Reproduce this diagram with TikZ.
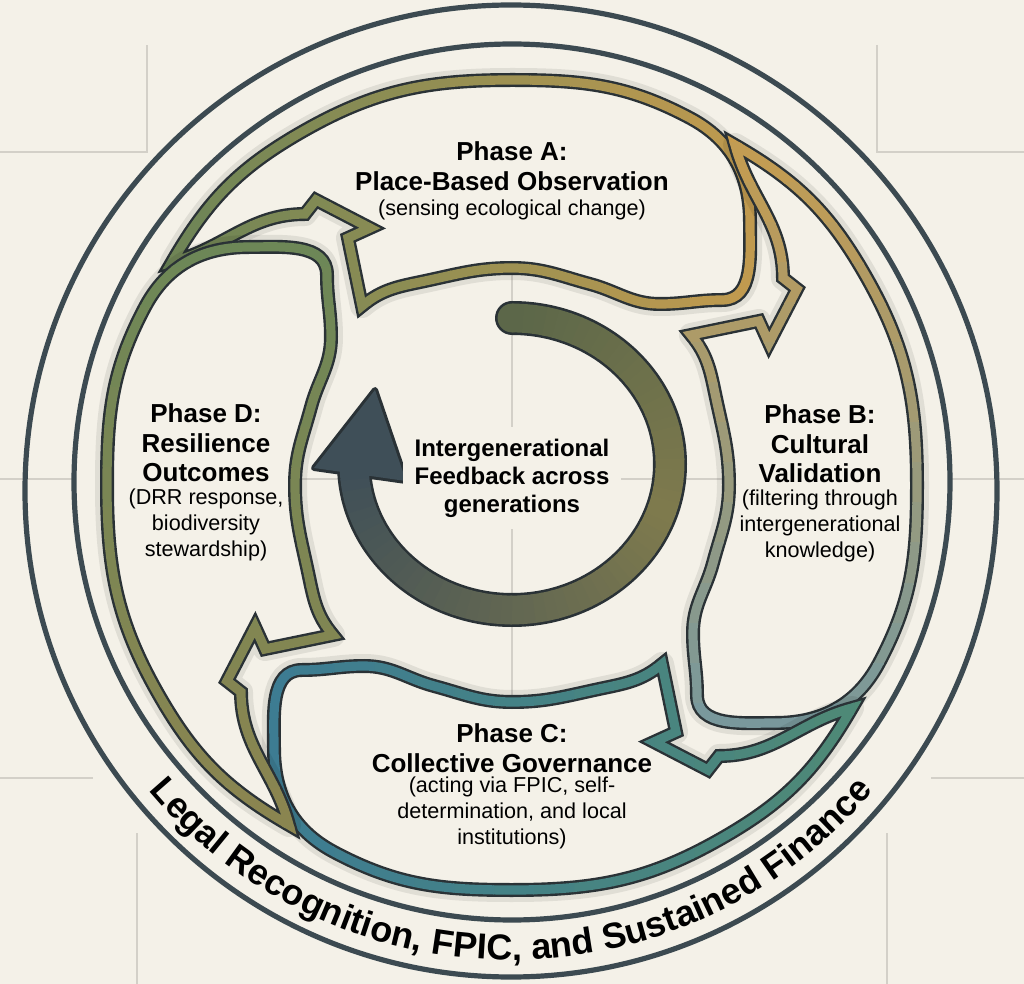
\documentclass[tikz,border=0pt]{standalone}
\usepackage{fontspec}
\setmainfont{Liberation Sans}
\usetikzlibrary{decorations.text}

\definecolor{paper}{HTML}{F4F1E8}
\definecolor{gridgrey}{HTML}{D3D0C8}
\definecolor{slate}{HTML}{3C4A51}
\definecolor{edgedark}{HTML}{2A3236}
\definecolor{leafgreen}{HTML}{6A8456}
\definecolor{ochre}{HTML}{C79C4E}
\definecolor{stoneblue}{HTML}{7398A2}
\definecolor{seagreen}{HTML}{4F8A75}
\definecolor{deepblue}{HTML}{3C7B94}
\definecolor{khaki}{HTML}{8C8550}
\definecolor{mossgreen}{HTML}{6B8757}
\definecolor{coretop}{HTML}{5C6749}
\definecolor{coreolive}{HTML}{7E7A4D}
\definecolor{coreslate}{HTML}{3F4F58}

\newcommand\ringfont{\fontsize{18pt}{20pt}\selectfont\bfseries}

\tikzset{
  gridline/.style  = {draw=gridgrey, line width=1pt},
  ring/.style      = {draw=slate, line width=2.6pt},
  bladeglow/.style = {draw=black, opacity=0.08, line width=12pt, line join=round},
  bladeedge/.style = {draw=edgedark, line width=7pt, line join=miter, miter limit=8},
  bladeband/.style = {line width=4.6pt, line join=miter, miter limit=8},
  coreedge/.style  = {draw=edgedark, line width=17pt},
  coreband/.style  = {line width=14.4pt},
  phtitle/.style   = {align=center, inner sep=0pt,
                      font=\fontsize{13pt}{14.75pt}\selectfont\bfseries},
  phnote/.style    = {align=center, inner sep=0pt,
                      font=\fontsize{10.8pt}{13.1pt}\selectfont},
  coretext/.style  = {align=center, fill=paper, inner sep=6pt,
                      font=\fontsize{12pt}{14pt}\selectfont\bfseries}
}

% one blade, drawn in the position of phase A
\def\bladepath{(172,262)
  to[out=60,in=-150] (300,133)
  to[out=30,in=180] (512,80)
  to[out=0,in=152] (690,118)
  to[out=-28,in=90] (750,222)
  to[out=-90,in=0] (722,300)
  to[out=180,in=0] (660,304)
  to[out=180,in=-15] (590,284)
  to[out=165,in=0] (512,268)
  to[out=180,in=12] (425,281)
  to[out=-168,in=40] (362,306)
  -- (348,238) -- (370,228) -- (316,200) -- (305,214)
  to[out=180,in=15] cycle}

\newcommand\drawblade[3]{%
  \begin{scope}[rotate around={#1:(ctr)}]
    \draw[bladeglow] \bladepath;
    \fill[paper] \bladepath;
    \draw[bladeedge] \bladepath;
    \foreach \i in {0,...,16}{
      \pgfmathtruncatemacro\pc{100*\i/16}
      \begin{scope}
        \clip (130+40*\i,20) rectangle ++(41,360);
        \draw[bladeband, draw=#3!\pc!#2] \bladepath;
      \end{scope}
    }
  \end{scope}}

\begin{document}
\begin{tikzpicture}[x=0.5pt, y=-0.5pt]
  \useasboundingbox (0,0) rectangle (1024,984);
  \fill[paper] (0,0) rectangle (1024,984);
  \coordinate (ctr) at (512,485);
  \coordinate (ringctr) at (511,488);
  \coordinate (core) at (512,464);

  \draw[gridline] (0,152) -- (147,152) -- (147,45);
  \draw[gridline] (877,45) -- (877,152) -- (1024,152);
  \draw[gridline] (0,778) -- (93,778);
  \draw[gridline] (137,833) -- (137,984);
  \draw[gridline] (931,778) -- (1024,778);
  \draw[gridline] (887,833) -- (887,984);
  \draw[gridline] (0,479) -- (1024,479);
  \fill[paper] (512,482) circle[radius=438];
  \draw[gridline] (280,479) -- (744,479);
  \draw[gridline] (512,250) -- (512,720);

  \draw[ring] (511,491) circle[radius=486];
  \draw[ring] (512,482) circle[radius=438];
  \path[decorate, decoration={text along path, text align=center,
        text={|\ringfont|Legal Recognition, FPIC, and Sustained Finance}}]
    (ringctr) ++(144:472) arc[start angle=144, end angle=36, radius=472];

  \drawblade{0}{leafgreen}{ochre}
  \drawblade{-90}{ochre}{stoneblue}
  \drawblade{-180}{seagreen}{deepblue}
  \drawblade{-270}{khaki}{mossgreen}

  % central feedback arrow
  \draw[coreedge, line cap=round] (core) ++(-90:158 and 146)
    arc[start angle=-90, end angle=178, x radius=158, y radius=146];
  \filldraw[draw=edgedark, fill=edgedark, line width=3pt, line join=round]
    (314,468) -- (375,390) -- (406,481) -- cycle;
  \fill[coretop] (core) ++(-90:158 and 146) circle[radius=14.4];
  \foreach \a in {-90,-86,...,14}{
    \pgfmathtruncatemacro\pc{100*(\a+90)/104}
    \draw[coreband, draw=coreolive!\pc!coretop] (core) ++(\a:158 and 146)
      arc[start angle=\a, end angle=\a+4.6, x radius=158, y radius=146];
  }
  \foreach \a in {18,22,...,174}{
    \pgfmathtruncatemacro\pc{100*(\a-18)/156}
    \draw[coreband, draw=coreslate!\pc!coreolive] (core) ++(\a:158 and 146)
      arc[start angle=\a, end angle=\a+4.6, x radius=158, y radius=146];
  }
  \fill[coreslate] (314,468) -- (375,390) -- (406,481) -- cycle;

  \node[coretext] (corelabel) at (512,478) {Intergenerational\\Feedback across\\generations};

  \node[phtitle] (titleA) at (512,166) {Phase A:\\Place-Based Observation};
  \node[phnote]  (noteA)  at (512,210) {(sensing ecological change)};
  \node[phtitle] (titleB) at (820,444) {Phase B:\\Cultural\\Validation};
  \node[phnote]  (noteB)  at (820,526) {(filtering through\\intergenerational\\knowledge)};
  \node[phtitle] (titleC) at (512,748) {Phase C:\\Collective Governance};
  \node[phnote]  (noteC)  at (512,813) {(acting via FPIC, self-\\determination, and local\\institutions)};
  \node[phtitle] (titleD) at (206,443) {Phase D:\\Resilience\\Outcomes};
  \node[phnote]  (noteD)  at (206,525) {(DRR response,\\biodiversity\\stewardship)};
\end{tikzpicture}
\end{document}
